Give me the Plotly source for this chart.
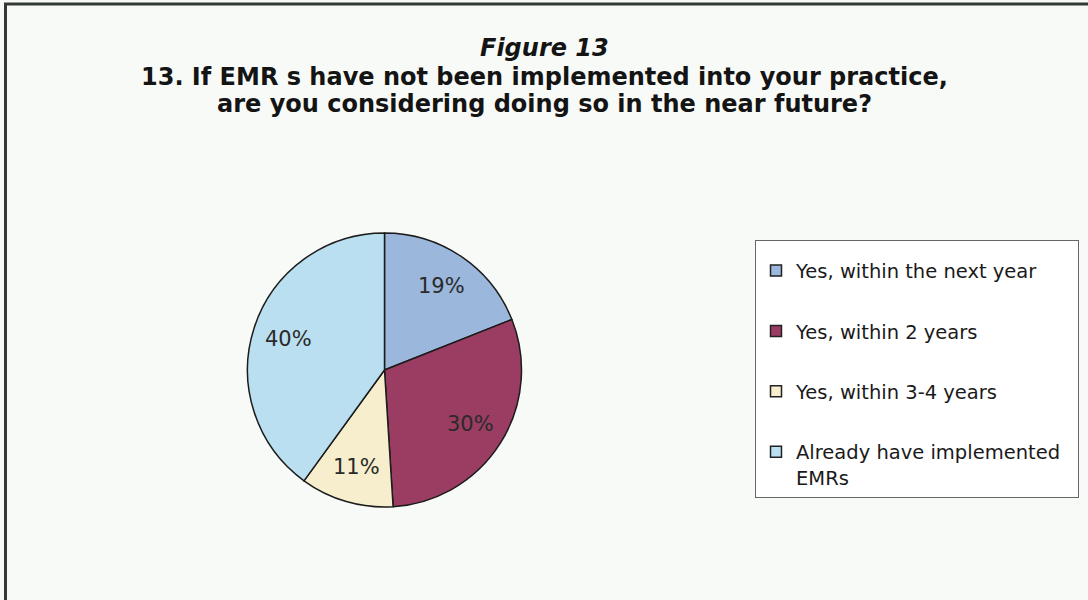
import math
import plotly.graph_objects as go

# Survey responses (share of respondents, %)
categories = [
    "Yes, within the next year",
    "Yes, within 2 years",
    "Yes, within 3-4 years",
    "Already have implemented<br>EMRs",
]
shares = [19, 30, 11, 40]
slice_colors = ["#9bb7dc", "#9b3d63", "#f6eecd", "#badff0"]

figure_label = "Figure 13"
question_lines = [
    "13. If EMR s have not been implemented into your practice,",
    "are you considering doing so in the near future?",
]

W, H = 1088, 600
cx, cy, r = 384.5, 370, 137  # pie centre / radius in px
BG = "#f8faf7"
INK = "#141414"

fig = go.Figure()

fig.add_trace(go.Pie(
    labels=[c.replace("<br>", " ") for c in categories],
    values=shares,
    sort=False,
    direction="clockwise",
    rotation=0,
    marker=dict(colors=slice_colors, line=dict(color="#1c1c1c", width=1.5)),
    textinfo="none",
    hoverinfo="label+percent",
    showlegend=False,
    domain=dict(
        x=[(cx - r) / W, (cx + r) / W],
        y=[(H - cy - r) / H, (H - cy + r) / H],
    ),
))

# Legend entries (one per category, each in its own group so the
# entries can be spaced out with tracegroupgap)
for i, (name, col) in enumerate(zip(categories, slice_colors)):
    first, *rest = name.split("<br>")
    if rest:
        first += "\u00a0\u00a0"  # a little breathing room at the right of the box
    label = "<br>".join([first] + rest)
    fig.add_trace(go.Scatter(
        x=[None], y=[None], mode="markers", name=label,
        legendgroup=f"g{i}",
        marker=dict(symbol="square", size=11, color=col,
                    line=dict(color="#222222", width=1.5)),
        hoverinfo="skip",
    ))

# Percentage labels placed inside each slice, at the slice's mid-angle
annotations = []
total = sum(shares)
acc = 0
for v in shares:
    mid = (acc + v / 2) / total * 2 * math.pi
    acc += v
    px = cx + 0.74 * r * math.sin(mid)
    py = cy - 0.74 * r * math.cos(mid)
    annotations.append(dict(
        x=px / W, y=1 - py / H, xref="paper", yref="paper",
        xanchor="center", yanchor="middle",
        text=f"{round(v / total * 100)}%", showarrow=False,
        font=dict(family="DejaVu Sans", size=21, color="#2a2a2a"),
    ))

# Title block
for text, yc in zip([f"<b><i>{figure_label}</i></b>"] + [f"<b>{t}</b>" for t in question_lines],
                    [48, 77, 104]):
    annotations.append(dict(
        x=0.5, y=1 - yc / H, xref="paper", yref="paper", xanchor="center", yanchor="middle",
        text=text, showarrow=False,
        font=dict(family="DejaVu Sans", size=24, color=INK),
    ))

fig.update_layout(
    width=W,
    height=H,
    margin=dict(l=0, r=0, t=0, b=0),
    paper_bgcolor=BG,
    plot_bgcolor=BG,
    xaxis=dict(visible=False),
    yaxis=dict(visible=False),
    annotations=annotations,
    showlegend=True,
    legend=dict(
        x=755 / W,
        y=1 - 240 / H,
        xanchor="left",
        yanchor="top",
        valign="top",
        bgcolor="#ffffff",
        bordercolor="#666666",
        borderwidth=1,
        font=dict(family="DejaVu Sans", size=19.5, color="#1a1a1a"),
        itemwidth=30,
        traceorder="grouped",
        tracegroupgap=32,
        title=dict(text="\u00a0", font=dict(size=8)),
    ),
    shapes=[
        dict(type="line", xref="paper", yref="paper", x0=5.5 / W, x1=5.5 / W, y0=0, y1=1 - 4 / H,
             line=dict(color="#333a33", width=3)),
        dict(type="line", xref="paper", yref="paper", x0=4 / W, x1=1, y0=1 - 4 / H, y1=1 - 4 / H,
             line=dict(color="#333a33", width=3)),
    ],
)

fig.write_html("out.html")
